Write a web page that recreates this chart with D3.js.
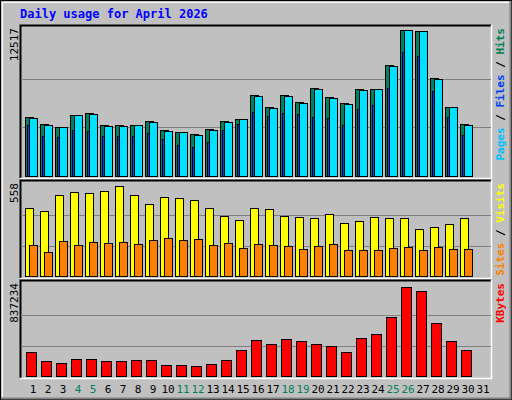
<!DOCTYPE html>
<html><head><meta charset="utf-8">
<script src="https://cdn.jsdelivr.net/npm/d3@7"></script>
<style>body{margin:0;background:#fff}svg{display:block}</style>
</head><body>
<svg id="chart" width="512" height="400"></svg>
<script>
// daily values for April 2026
var days = d3.range(1, 32);
var weekend = [4, 5, 11, 12, 18, 19, 25, 26];
var hits = [5058,4458,4201,5230,5401,4372,4372,4372,4715,3944,3772,3601,4029,4715,4887,6944,5915,6944,6344,7544,6773,6258,7459,7459,9516,12517,12431,8401,5915,4458];
var files = [4980,4380,4201,5230,5320,4290,4290,4372,4630,3860,3772,3520,3944,4630,4887,6860,5830,6860,6260,7460,6690,6170,7370,7459,9430,12517,12431,8320,5915,4380];
var pages = [4372,3429,3343,3944,3858,3429,3429,3429,3686,3172,2658,2486,2915,3944,4458,5487,5144,5401,5315,5058,4972,4372,5744,6087,7544,10631,10288,7287,5058,3515];
var visits = [420,396,498,516,510,522,552,498,444,486,480,468,420,366,342,414,408,366,360,354,378,324,336,360,354,354,288,300,318,354];
var sites = [192,150,216,192,210,204,210,198,222,234,222,228,192,204,174,198,192,186,168,186,198,162,162,162,174,180,162,180,168,168];
var kbytes = [222675,142512,115791,160326,160326,133605,142512,151419,151419,97977,97977,89070,106884,151419,240489,329559,293931,338466,320652,293931,276117,222675,347373,383001,543327,819444,783816,489885,320652,240489];

var svg = d3.select("#chart");
var mono = "'DejaVu Sans Mono', monospace";

// outer bevel
svg.append("rect").attr("x", 0.5).attr("y", 0.5).attr("width", 511).attr("height", 399).attr("fill", "#c0c0c0").attr("stroke", "#000");
svg.append("path").attr("d", "M1.5,398.5H510.5V1.5").attr("fill", "none").attr("stroke", "#808080").attr("stroke-width", 2);
svg.append("path").attr("d", "M2.5,397V2.5H509").attr("fill", "none").attr("stroke", "#fff");

svg.append("text").attr("x", 20).attr("y", 18).attr("fill", "#0000ff")
  .style("font", "bold 12px " + mono).text("Daily usage for April 2026");

var x = d3.scaleLinear().domain([1, 2]).range([25, 40]);

function panel(y0, y1, max, label, legend) {
  svg.append("rect").attr("x", 20).attr("y", y0).attr("width", 471).attr("height", y1 - y0).attr("fill", "#c0c0c0");
  svg.append("path").attr("d", "M20.5," + y1 + "V" + (y0 + 0.5) + "H491").attr("fill", "none").attr("stroke", "#000").attr("stroke-width", 2);
  svg.append("path").attr("d", "M20," + (y1 + 0.5) + "H491.5V" + y0).attr("fill", "none").attr("stroke", "#fff").attr("stroke-width", 1.5);
  var y = d3.scaleLinear().domain([0, max]).range([y1 - 2, y0 + 5]);
  [max / 3, max * 2 / 3].forEach(function (v) {
    svg.append("line").attr("x1", 21).attr("x2", 491).attr("y1", Math.round(y(v)) + 0.5).attr("y2", Math.round(y(v)) + 0.5).attr("stroke", "#808080");
  });
  svg.append("text").attr("transform", "translate(18," + (y0 + 3) + ") rotate(-90)")
    .attr("text-anchor", "end").style("font", "11px " + mono).text(label);
  var t = svg.append("text").attr("transform", "translate(504," + (y0 + 3) + ") rotate(-90)")
    .attr("text-anchor", "end").style("font", "bold 11px " + mono);
  legend.forEach(function (l, i) {
    if (i) t.append("tspan").attr("fill", "#000").text(" / ");
    t.append("tspan").attr("fill", l[1]).text(l[0]);
  });
  return y;
}

function bars(y, data, dx, w, color) {
  svg.append("g").selectAll("rect").data(data).enter().append("rect")
    .attr("x", function (d, i) { return x(i + 1) + dx + 0.5; })
    .attr("y", function (d) { return Math.round(y(d)) + 0.5; })
    .attr("width", w)
    .attr("height", function (d) { return y.range()[0] - Math.round(y(d)); })
    .attr("fill", color).attr("stroke", "#000").attr("stroke-width", 1);
}

var y1 = panel(25, 178, 12517, "12517", [["Pages", "#00c0ff"], ["Files", "#0040ff"], ["Hits", "#008050"]]);
bars(y1, hits, 0, 8, "#00805c");
bars(y1, files, 4, 8, "#00e0ff");
bars(y1, pages, 2, 2, "#0040ff");

var y2 = panel(180, 278, 558, "558", [["Sites", "#ff8000"], ["Visits", "#ffff00"]]);
bars(y2, visits, 0, 8, "#ffff00");
bars(y2, sites, 4, 8, "#ff8000");

var y3 = panel(280, 378, 837234, "837234", [["KBytes", "#ff0000"]]);
bars(y3, kbytes, 1, 10, "#ff0000");

svg.append("g").selectAll("text").data(days).enter().append("text")
  .attr("x", function (d) { return x(d) + 8; }).attr("y", 393).attr("text-anchor", "middle")
  .attr("fill", function (d) { return weekend.indexOf(d) >= 0 ? "#00805c" : "#000"; })
  .style("font", "11px " + mono).text(function (d) { return d; });
</script>
</body></html>
